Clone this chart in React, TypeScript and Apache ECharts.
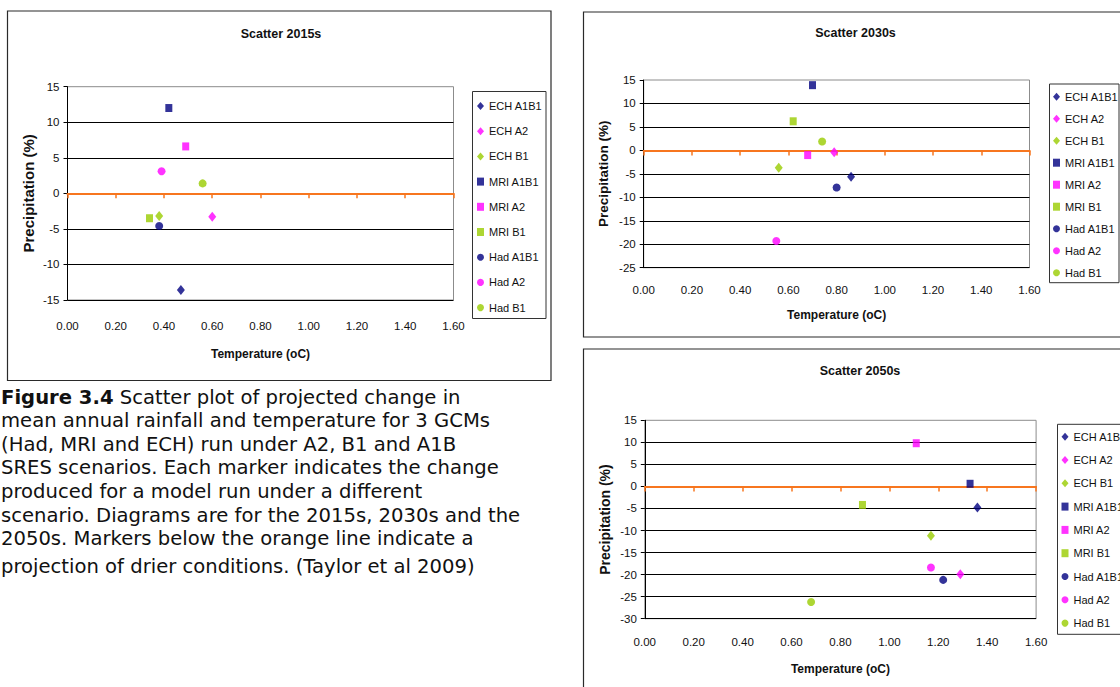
import React, { useEffect, useRef } from "react";
import * as echarts from "echarts";

// ---------- data ----------
const seriesNames = ["ECH A1B1", "ECH A2", "ECH B1", "MRI A1B1", "MRI A2", "MRI B1", "Had A1B1", "Had A2", "Had B1"];
const seriesSymbols = ["diamond", "diamond", "diamond", "rect", "rect", "rect", "circle", "circle", "circle"];
const seriesColors = ["#000080", "#FF00FF", "#99CC00", "#000080", "#FF00FF", "#99CC00", "#000080", "#FF00FF", "#99CC00"];

const chartTitles = ["Scatter 2015s", "Scatter 2030s", "Scatter 2050s"];

const temp2015 = [0.47, 0.6, 0.38, 0.42, 0.49, 0.34, 0.38, 0.39, 0.56];
const precip2015 = [-13.6, -3.3, -3.2, 12.0, 6.6, -3.5, -4.6, 3.1, 1.4];

const temp2030 = [0.86, 0.79, 0.56, 0.7, 0.68, 0.62, 0.8, 0.55, 0.74];
const precip2030 = [-5.6, -0.4, -3.7, 13.9, -1.0, 6.2, -7.9, -19.3, 1.9];

const temp2050 = [1.36, 1.29, 1.17, 1.33, 1.11, 0.89, 1.22, 1.17, 0.68];
const precip2050 = [-4.8, -19.9, -11.2, 0.6, 9.8, -4.2, -21.2, -18.4, -26.2];

const xMin = 0;
const xMax = 1.6;
const xStep = 0.2;
const yMins = [-15, -25, -30];
const yMax = 15;
const yStep = 5;

const xName = "Temperature (oC)";
const yName = "Precipitation (%)";

const captionLines = [
  "{b|Figure 3.4} Scatter plot of projected change in",
  "mean annual rainfall and temperature for 3 GCMs",
  "(Had, MRI and ECH) run under A2, B1 and A1B",
  "SRES scenarios. Each marker indicates the change",
  "produced for a model run under a different",
  "scenario. Diagrams are for the 2015s, 2030s and the",
  "2050s. Markers below the orange line indicate a",
  "projection of drier conditions. (Taylor et al 2009)",
];

// ---------- layout ----------
const FONT = "'Liberation Sans', Arial, sans-serif";
const CAP_FONT = "'DejaVu Sans', 'Liberation Sans', sans-serif";
const ORANGE = "#F7761F";

const layouts = [
  {
    grid: { left: 67.5, top: 86.7, width: 386, height: 213.3 },
    frame: { x: 7.5, y: 11, w: 543.5, h: 369.5 },
    title: { x: 281, y: 34 },
    legendBox: { x: 472.5, y: 91.5, w: 73.5, h: 227 },
    legend: { left: 477, firstCenter: 106, step: 25.2 },
    xLabelMargin: 20,
    xNameGap: 48,
    yNameGap: 32,
    yNameSize: 15,
  },
  {
    grid: { left: 643.7, top: 80, width: 385.8, height: 187.7 },
    frame: { x: 583.5, y: 12, w: 600, h: 325 },
    title: { x: 855.5, y: 33 },
    legendBox: { x: 1049.5, y: 84, w: 69.5, h: 198.7 },
    legend: { left: 1053, firstCenter: 96.7, step: 22 },
    xLabelMargin: 16,
    xNameGap: 41,
    yNameGap: 33,
    yNameSize: 13.5,
  },
  {
    grid: { left: 644.8, top: 420.3, width: 391.3, height: 198.4 },
    frame: { x: 583.5, y: 349, w: 600, h: 400 },
    title: { x: 860, y: 370.7 },
    legendBox: { x: 1057.5, y: 424.3, w: 100, h: 210 },
    legend: { left: 1061.5, firstCenter: 436.7, step: 23.3 },
    xLabelMargin: 17,
    xNameGap: 44,
    yNameGap: 33,
    yNameSize: 14,
  },
];

const temps = [temp2015, temp2030, temp2050];
const precips = [precip2015, precip2030, precip2050];

function buildOption() {
  const grid: any[] = [];
  const xAxis: any[] = [];
  const yAxis: any[] = [];
  const series: any[] = [];
  const legend: any[] = [];
  const graphic: any[] = [];

  layouts.forEach((L, k) => {
    grid.push({
      left: L.grid.left,
      top: L.grid.top,
      width: L.grid.width,
      height: L.grid.height,
      show: true,
      borderColor: "#8c8c8c",
      borderWidth: 1,
      backgroundColor: "transparent",
      containLabel: false,
    });
    // label axis (bottom)
    xAxis.push({
      gridIndex: k,
      type: "value",
      min: xMin,
      max: xMax,
      interval: xStep,
      position: "bottom",
      axisLine: { show: false, onZero: false },
      axisTick: { show: false },
      splitLine: { show: false },
      axisLabel: {
        margin: L.xLabelMargin,
        fontFamily: FONT,
        fontSize: 11.5,
        color: "#111",
        formatter: (v: number) => v.toFixed(2),
      },
      name: xName,
      nameLocation: "middle",
      nameGap: L.xNameGap,
      nameTextStyle: { fontFamily: FONT, fontSize: 12, fontWeight: "bold", color: "#111" },
    });
    // orange zero axis
    xAxis.push({
      gridIndex: k,
      type: "value",
      min: xMin,
      max: xMax,
      interval: xStep,
      position: "bottom",
      z: 1,
      axisLine: { show: true, onZero: true, onZeroAxisIndex: k, lineStyle: { color: ORANGE, width: 2 } },
      axisTick: { show: true, inside: false, length: 5, lineStyle: { color: ORANGE, width: 1.5 } },
      axisLabel: { show: false },
      splitLine: { show: false },
    });
    yAxis.push({
      gridIndex: k,
      type: "value",
      min: yMins[k],
      max: yMax,
      interval: yStep,
      axisLine: { show: true, onZero: false, lineStyle: { color: "#000", width: 1 } },
      axisTick: { show: true, length: 4, lineStyle: { color: "#000" } },
      splitLine: { show: true, showMaxLine: false, lineStyle: { color: "#000", width: 1 } },
      axisLabel: { margin: 8, fontFamily: FONT, fontSize: 11.5, color: "#111" },
      name: yName,
      nameLocation: "middle",
      nameGap: L.yNameGap,
      nameRotate: 90,
      nameTextStyle: { fontFamily: FONT, fontSize: L.yNameSize, fontWeight: "bold", color: "#111" },
    });

    seriesNames.forEach((name, i) => {
      const sym = seriesSymbols[i];
      series.push({
        type: "scatter",
        name,
        xAxisIndex: 2 * k,
        yAxisIndex: k,
        symbol: sym,
        symbolSize: sym === "diamond" ? [8, 10] : sym === "rect" ? [7, 8] : 8,
        itemStyle: { color: seriesColors[i] },
        data: [[temps[k][i], precips[k][i]]],
        z: 3,
      });
    });

    const legendLineH = 14;
    legend.push({
      show: true,
      orient: "vertical",
      left: L.legend.left,
      top: L.legend.firstCenter - legendLineH / 2,
      padding: 0,
      itemGap: L.legend.step - legendLineH,
      itemWidth: 7,
      itemHeight: 8,
      selectedMode: false,
      textStyle: { fontFamily: FONT, fontSize: 11, color: "#111", lineHeight: legendLineH },
      data: seriesNames.map((n, i) => ({ name: n, icon: seriesSymbols[i] })),
    });

    graphic.push({
      type: "rect",
      shape: { x: L.frame.x, y: L.frame.y, width: L.frame.w, height: L.frame.h },
      style: { fill: "none", stroke: "#2a2a2a", lineWidth: 1.2 },
      silent: true,
      z: -10,
    });
    graphic.push({
      type: "rect",
      shape: { x: L.legendBox.x, y: L.legendBox.y, width: L.legendBox.w, height: L.legendBox.h },
      style: { fill: "#fff", stroke: "#333", lineWidth: 1 },
      silent: true,
      z: -5,
    });
    graphic.push({
      type: "text",
      x: L.title.x,
      y: L.title.y,
      style: {
        text: chartTitles[k],
        fontFamily: FONT,
        fontSize: 12.5,
        fontWeight: "bold",
        fill: "#111",
        align: "center",
        verticalAlign: "middle",
      },
      silent: true,
    });
  });

  const capY0 = 397;
  const capStep = 23.6;
  captionLines.forEach((line, i) => {
    const y = i < 7 ? capY0 + i * capStep : capY0 + 6 * capStep + 28;
    graphic.push({
      type: "text",
      x: 1,
      y,
      style: {
        text: line,
        fontFamily: CAP_FONT,
        fontSize: 19.6,
        lineHeight: 21,
        fill: "#111",
        align: "left",
        verticalAlign: "middle",
        rich: {
          b: { fontFamily: CAP_FONT, fontSize: 19.6, lineHeight: 21, fontWeight: "bold", fill: "#111" },
        },
      },
      silent: true,
    });
  });

  return {
    animation: false,
    backgroundColor: "#fff",
    grid,
    xAxis,
    yAxis,
    series,
    legend,
    graphic,
  };
}

export default function App() {
  const ref = useRef<HTMLDivElement>(null);
  useEffect(() => {
    if (!ref.current) return;
    const chart = echarts.init(ref.current, null, { renderer: "svg" });
    chart.setOption(buildOption() as any);
    return () => chart.dispose();
  }, []);
  return (
    <div
      ref={ref}
      style={{ position: "absolute", left: 0, top: 0, width: 1120, height: 687, overflow: "hidden", background: "#fff" }}
    />
  );
}
